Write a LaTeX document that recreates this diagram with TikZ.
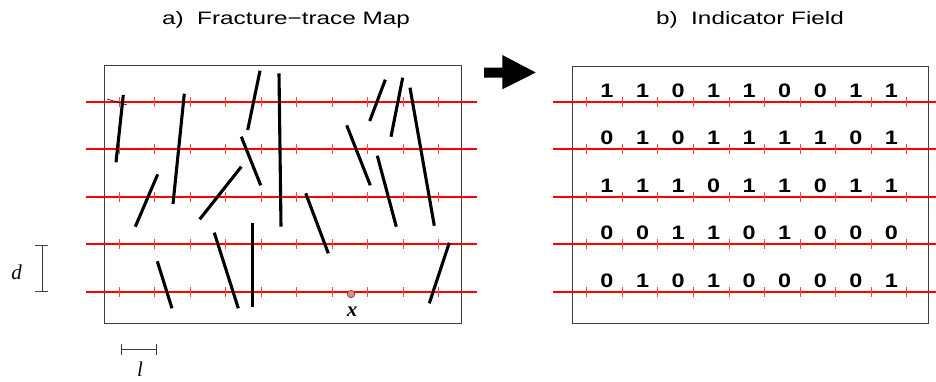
\documentclass[tikz,border=0pt]{standalone}
\usepackage{fontspec}
\setmainfont{Liberation Serif}
\newfontfamily\titlefont[FakeStretch=1.35]{Liberation Sans}
\newfontfamily\bitfont[FakeStretch=1.2]{Liberation Sans}
\usetikzlibrary{positioning}
\definecolor{scanred}{HTML}{FF0000}

\begin{document}
\begin{tikzpicture}[x=1pt,y=-1pt,
    frame/.style={draw=black!75,line width=0.8pt},
    scanline/.style={draw=scanred,line width=1.9pt},
    tick/.style={draw=scanred!75,line width=0.8pt},
    trace/.style={draw=black,line width=3.1pt},
    title/.style={font=\titlefont\fontsize{18}{18}\selectfont,inner sep=0pt,anchor=base},
    bit/.style={font=\bitfont\bfseries\fontsize{19.5}{19.5}\selectfont,inner sep=0pt},
    var/.style={font=\fontsize{21}{21}\selectfont\itshape,inner sep=0pt},
    bar/.style={draw=black!75,line width=0.8pt}]
    \useasboundingbox (0,0) rectangle (936,381);
    % titles
    \node[title] (ta) at (286,24) {a)~~Fracture−trace Map};
    \node[title] (tb) at (750,24) {b)~~Indicator Field};
    % the two frames
    \draw[frame] (104,65) rectangle (461,323);
    \draw[frame] (572,66) rectangle (928,323);
    % scan lines with their ticks
    \foreach \y in {102,149,197,244,292}{
      \draw[scanline] (86,\y) -- (477,\y);
      \draw[scanline] (553,\y) -- (936,\y);
      \foreach \k in {0,...,9}{
        \draw[tick] ({119.3+35.5*\k},{\y-5}) -- ++(0,10);
        \draw[tick] ({586.7+35.55*\k},{\y-5}) -- ++(0,10);
      }
    }
    % fracture traces
    \foreach \xa/\ya/\xb/\yb in {123.3/95/116/162.3, 184.3/93.7/173/204, 260/70.7/247.7/130,
        279/73.3/281/226.7, 241.3/136.7/260.7/185.3, 157.7/174.3/135.3/226.7,
        241.3/166.7/199.7/219.3, 385.3/79.7/369.7/121, 402.7/77.7/391/136.7,
        410/87.7/434.3/225.7, 346.7/125.3/370.3/185.3, 377.3/155.7/396.3/226.7,
        305.7/193.3/328.3/253.3, 214.3/232.7/238.3/308.3, 252.7/223.3/252.7/306.7,
        157.3/261.3/172/308.3, 449.3/242.7/429.3/303.3}
      \draw[trace] (\xa,\ya) -- (\xb,\yb);
    \draw[black,line width=0.6pt] (107,99) -- (127,105);
    % sample point
    \node[circle,draw=scanred,fill=black!35,line width=0.7pt,minimum size=7.5pt,inner sep=0pt] (xpt) at (351,294) {};
    \node[var,font=\fontsize{21}{21}\selectfont\bfseries\itshape] (xlab) at (352,312) {x};
    % indicator values
    \foreach \bits [count=\r] in {{1,1,0,1,1,0,0,1,1},{0,1,0,1,1,1,1,0,1},{1,1,1,0,1,1,0,1,1},
        {0,0,1,1,0,1,0,0,0},{0,1,0,1,0,0,0,0,1}}{
      \pgfmathsetmacro\ry{55+47.5*\r-12}
      \foreach \b [count=\c] in \bits
        \node[bit] (b\r-\c) at ({571.4+35.55*\c},\ry) {\b};
    }
    % arrow between the panels
    \fill[black] (484,67.7) -- (502.3,67.7) -- (502.3,55) -- (535.7,72.5)
      -- (502.3,89.3) -- (502.3,77.7) -- (484,77.7) -- cycle;
    % spacing d
    \draw[bar] (42,245.7) -- (42,291);
    \draw[bar] (35,245.7) -- (48,245.7);
    \draw[bar] (35,291) -- (48,291);
    \node[var] (dlab) at (16.5,272) {d};
    % spacing l
    \draw[bar] (121.7,349.3) -- (156,349.3);
    \draw[bar] (121.7,343.5) -- (121.7,355);
    \draw[bar] (156,343.5) -- (156,355);
    \node[var] (llab) at (140,369) {l};
\end{tikzpicture}
\end{document}
